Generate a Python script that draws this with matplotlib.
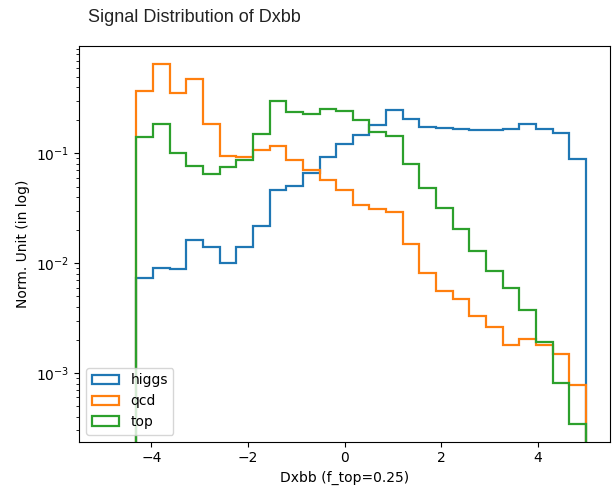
"""Signal distribution of Dxbb for higgs / qcd / top, normalised, log scale."""
import numpy as np
import matplotlib
matplotlib.use("Agg")
import matplotlib.pyplot as plt

# 29 bins on [-5, 5]; first two bins are empty for all samples
BIN_EDGES = np.linspace(-5, 5, 30)

HIGGS = [0, 0,
         0.0073, 0.0091, 0.0088, 0.0163, 0.0139, 0.0100, 0.0139, 0.0216,
         0.0464, 0.0507, 0.0667, 0.0933, 0.121, 0.147, 0.181, 0.248,
         0.208, 0.175, 0.172, 0.166, 0.163, 0.163, 0.167, 0.184, 0.166,
         0.155, 0.0888]
QCD = [0, 0,
       0.37, 0.66, 0.356, 0.48, 0.184, 0.095, 0.092, 0.107, 0.117, 0.087,
       0.071, 0.057, 0.046, 0.034, 0.031, 0.029, 0.0149, 0.0082, 0.0056,
       0.0047, 0.0033, 0.0026, 0.00179, 0.00204, 0.00179, 0.0015, 0.00078]
TOP = [0, 0,
       0.140, 0.184, 0.100, 0.077, 0.065, 0.076, 0.088, 0.149, 0.299,
       0.239, 0.228, 0.256, 0.244, 0.201, 0.157, 0.145, 0.081, 0.0487,
       0.032, 0.0205, 0.013, 0.0085, 0.0059, 0.00376, 0.0019, 0.00081,
       0.000344]

SAMPLES = ["higgs", "qcd", "top"]


def main():
    fig = plt.figure(figsize=(6.14, 4.9), dpi=100)
    ax = fig.add_axes([0.1287, 0.0986, 0.8648, 0.8081])

    centers = 0.5 * (BIN_EDGES[:-1] + BIN_EDGES[1:])
    for name, vals in zip(SAMPLES, [HIGGS, QCD, TOP]):
        ax.hist(centers, bins=BIN_EDGES, weights=vals, histtype="step",
                linewidth=1.6, label=name)

    ax.set_yscale("log")
    ax.set_xlim(-5.5, 5.5)
    ax.set_ylim(2.36e-4, 0.96)
    ax.set_xticks([-4, -2, 0, 2, 4])
    ax.set_xlabel("Dxbb (f_top=0.25)")
    ax.set_ylabel("Norm. Unit (in log)")
    ax.legend(loc="lower left")

    fig.text(88 / 614, 1 - 18 / 490, "Signal Distribution of Dxbb",
             family="Liberation Sans", fontsize=13, va="center", ha="left",
             color="#222222")

    fig.savefig("out.png", dpi=100)


if __name__ == "__main__":
    main()
